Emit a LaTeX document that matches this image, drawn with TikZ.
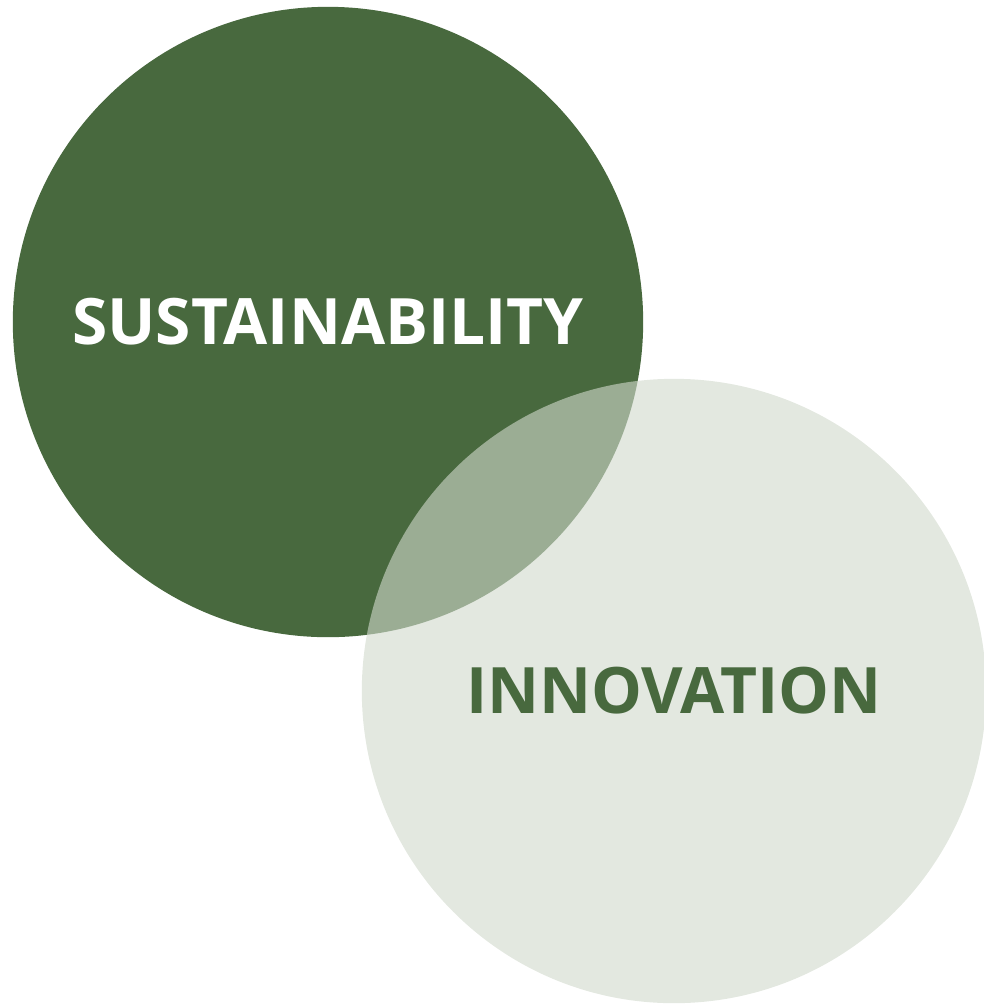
\documentclass[tikz,border=0pt]{standalone}
\usepackage{fontspec}
\newfontfamily\vennfont{Open Sans}
\usepackage{tikz}
\usetikzlibrary{shapes}

\definecolor{darkgreen}{HTML}{48693E}
\definecolor{palegreen}{HTML}{D1D9CC}

\begin{document}
\begin{tikzpicture}[x=0.01cm,y=-0.01cm]

					\tikzstyle{bigset}=[circle,draw=none,inner sep=0pt,font=\vennfont\bfseries\fontsize{18.2}{22}\selectfont]
					\tikzstyle{sustset}=[bigset,fill=darkgreen,text=white,minimum size=6.3cm]
					\tikzstyle{innovset}=[bigset,fill=palegreen,fill opacity=0.61,text opacity=1,text=darkgreen,minimum size=6.24cm]

					\useasboundingbox (0,0) rectangle (984,1005);

					\node [sustset] (sust) at (328,322) {SUSTAINABILITY};
					\node [innovset] (innov) at (674,691) {INNOVATION};
				\end{tikzpicture}
\end{document}
